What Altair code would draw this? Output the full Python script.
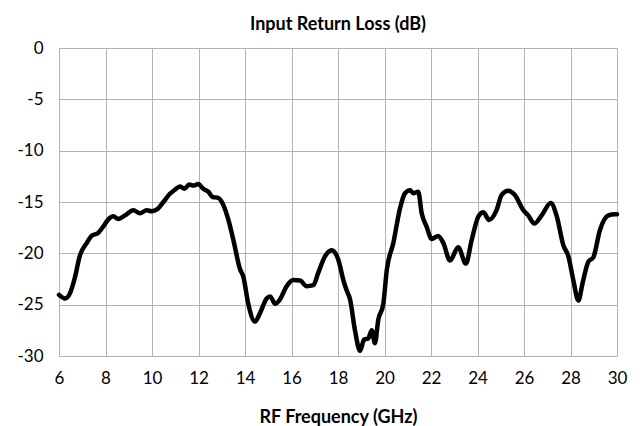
import altair as alt
import pandas as pd

freq = [6.0, 6.26, 6.47, 6.69, 6.9, 7.19, 7.4, 7.69, 7.9, 8.12, 8.34, 8.55, 8.84, 9.2, 9.48,
        9.77, 9.99, 10.23, 10.49, 10.77, 10.99, 11.2, 11.4, 11.6, 11.8, 11.99, 12.2, 12.42,
        12.6, 12.85, 13.07, 13.28, 13.5, 13.78, 13.93, 14.14, 14.43, 14.65, 14.93, 15.08,
        15.29, 15.5, 15.79, 16.08, 16.37, 16.65, 16.94, 17.15, 17.44, 17.73, 18.01, 18.23,
        18.37, 18.52, 18.73, 18.95, 19.12, 19.3, 19.45, 19.59, 19.73, 19.95, 20.1, 20.38,
        20.67, 20.88, 21.1, 21.24, 21.45, 21.6, 21.81, 22.03, 22.31, 22.53, 22.82, 23.17,
        23.5, 23.75, 24.04, 24.25, 24.5, 24.82, 25.04, 25.32, 25.6, 25.97, 26.18, 26.44,
        26.76, 27.15, 27.41, 27.69, 27.91, 28.12, 28.34, 28.52, 28.77, 28.98, 29.27, 29.63,
        29.91, 30.0]
loss = [-24.05, -24.4, -23.9, -22.3, -20.2, -19.0, -18.3, -18.0, -17.4, -16.7, -16.4, -16.65,
        -16.3, -15.8, -16.1, -15.8, -15.9, -15.7, -15.0, -14.2, -13.8, -13.5, -13.7, -13.3,
        -13.4, -13.25, -13.7, -14.0, -14.5, -14.6, -15.3, -16.7, -18.7, -21.5, -22.3, -24.9,
        -26.65, -25.8, -24.4, -24.2, -24.9, -24.5, -23.2, -22.6, -22.65, -23.2, -23.1, -21.9,
        -20.3, -19.7, -20.6, -22.6, -23.6, -24.5, -27.5, -29.5, -28.4, -28.3, -27.5, -28.75,
        -26.5, -24.9, -21.6, -19.0, -15.6, -14.15, -13.85, -14.15, -14.0, -16.1, -17.4, -18.6,
        -18.3, -19.0, -20.7, -19.4, -21.0, -18.7, -16.4, -16.0, -16.75, -15.8, -14.3, -13.9,
        -14.3, -15.8, -16.3, -17.1, -16.3, -15.1, -16.4, -19.2, -20.3, -22.6, -24.6, -22.9,
        -20.8, -20.4, -17.7, -16.3, -16.2, -16.2]

x_ticks = list(range(6, 31, 2))
y_ticks = list(range(-30, 1, 5))

df = pd.DataFrame({"freq": freq, "loss": loss})

FONT = "Lato"

chart = alt.Chart(df).mark_line(
    color="black", strokeWidth=4.5, interpolate="monotone", strokeJoin="round", strokeCap="round"
).encode(
    x=alt.X("freq:Q",
            scale=alt.Scale(domain=[6, 30], nice=False, zero=False),
            axis=alt.Axis(values=x_ticks, title="RF Frequency (GHz)", grid=True,
                          gridColor="#b3b3b3", gridWidth=1, ticks=False, domain=False,
                          labelFontSize=17, labelColor="black", labelPadding=14,
                          labelFont=FONT, titleFont=FONT, titleFontSize=18,
                          titleFontWeight="bold", titleColor="black", titlePadding=22,
                          labelFlush=False)),
    y=alt.Y("loss:Q",
            scale=alt.Scale(domain=[-30, 0], nice=False, zero=False),
            axis=alt.Axis(values=y_ticks, title=None, grid=True,
                          gridColor="#b3b3b3", gridWidth=1, ticks=False, domain=False,
                          labelFontSize=17, labelColor="black", labelPadding=16,
                          labelFont=FONT, labelFlush=False,
                          labelExpr="'' + datum.value")),
).properties(
    width=558,
    height=308,
    title=alt.TitleParams("Input Return Loss (dB)", font=FONT, fontSize=18,
                          fontWeight="bold", color="black", anchor="middle", offset=5),
    autosize=alt.AutoSizeParams(type="none"),
    padding={"left": 51, "top": 40, "right": 15, "bottom": 80},
).configure_view(
    stroke="black", strokeWidth=2.5
).configure(background="white")

chart.save("out.html", embed_options={"renderer": "svg", "actions": False})
